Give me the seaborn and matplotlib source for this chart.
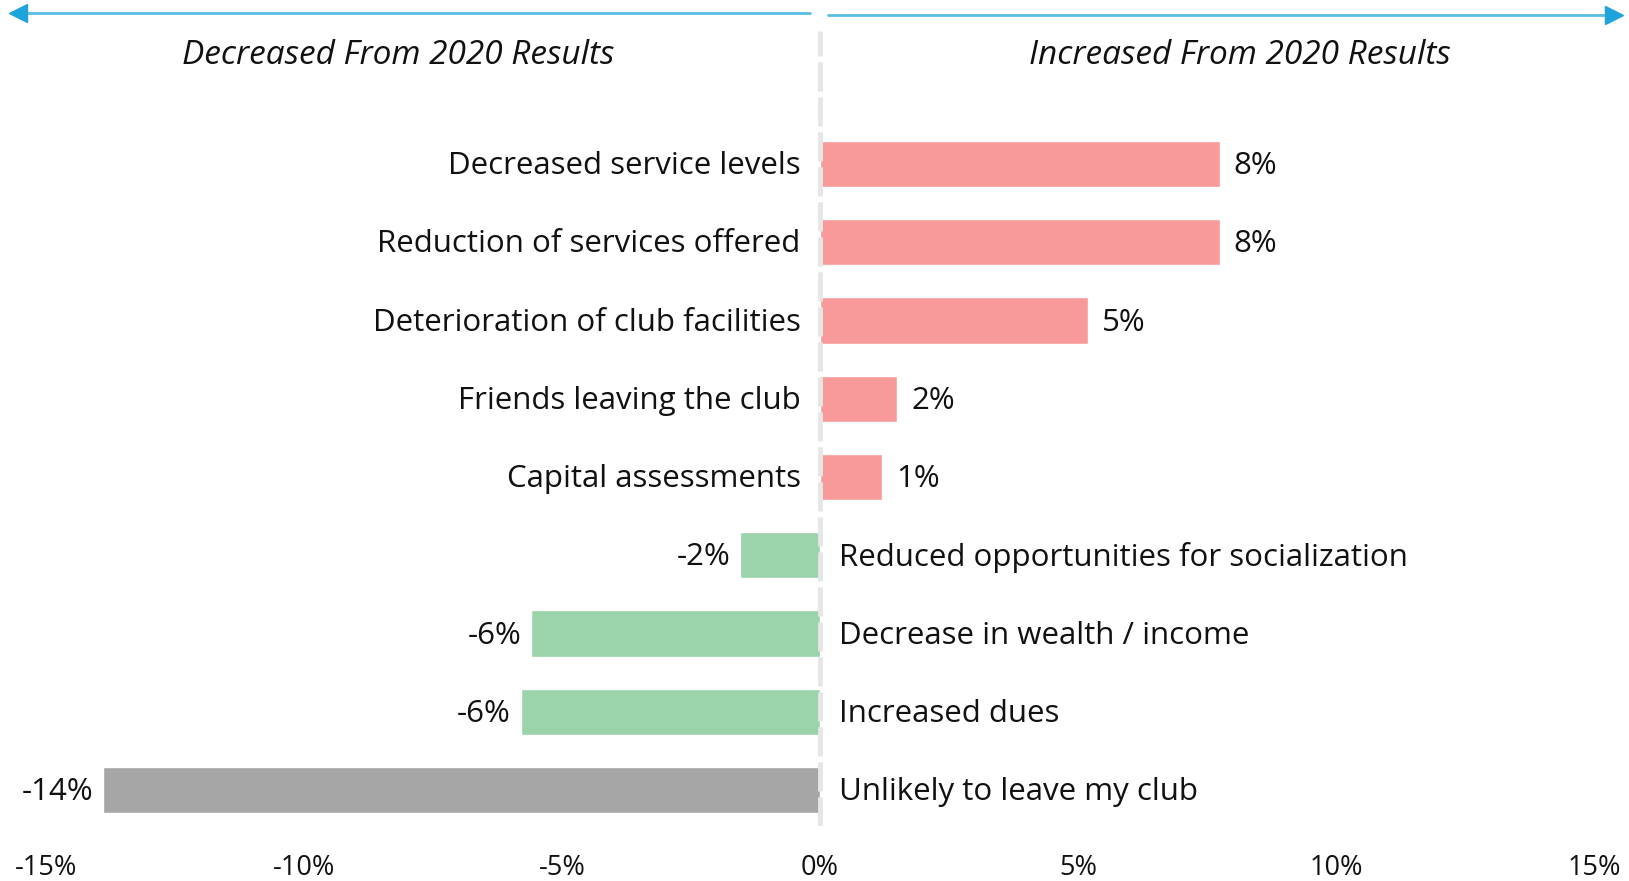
import matplotlib
matplotlib.use("Agg")
import matplotlib.pyplot as plt
from matplotlib.lines import Line2D
import seaborn as sns
import pandas as pd

# Reasons for leaving a club, change versus 2020 (percentage points)
categories = [
    "Decreased service levels",
    "Reduction of services offered",
    "Deterioration of club facilities",
    "Friends leaving the club",
    "Capital assessments",
    "Reduced opportunities for socialization",
    "Decrease in wealth / income",
    "Increased dues",
    "Unlikely to leave my club",
]
values = [7.75, 7.75, 5.2, 1.5, 1.2, -1.55, -5.6, -5.8, -13.9]
bar_colors = ["#F89A9A"] * 5 + ["#9BD3AA"] * 3 + ["#A6A6A6"]
x_ticks = [-15, -10, -5, 0, 5, 10, 15]
left_header = "Decreased From 2020 Results"
right_header = "Increased From 2020 Results"

sns.set_theme(style="white")
plt.rcParams["font.family"] = ["Open Sans", "DejaVu Sans"]

W, H = 1629, 881
fig = plt.figure(figsize=(W / 100, H / 100), dpi=100)
ax = fig.add_axes([46 / W, 1 - 826 / H, (1594 - 46) / W, (826 - 31) / H])

df = pd.DataFrame({"reason": categories, "change": values})
sns.barplot(data=df, y="reason", x="change", hue="reason", palette=bar_colors,
            orient="h", width=0.59, legend=False, ax=ax, saturation=1)

ax.set_xlim(-15, 15)
ax.set_ylim(8.46, -1.7)
ax.set_xticks(x_ticks)
ax.set_xticklabels([f"{t}%" for t in x_ticks], fontsize=19.5, color="#111111")
ax.tick_params(axis="x", length=0, pad=20.5)
ax.set_yticks([])
ax.set_xlabel("")
ax.set_ylabel("")
for s in ax.spines.values():
    s.set_visible(False)

# dashed zero line drawn over the bar bases
ax.axvline(0, color="#E6E6E6", lw=3.5, linestyle=(0, (6, 1.2)), zorder=5)

txt_kw = dict(fontsize=22.5, color="#111111", va="center", textcoords="offset points")
for i, (cat, v) in enumerate(zip(categories, values)):
    lab = f"{v:.0f}%"
    if v >= 0:
        ax.annotate(cat, (0, i), xytext=(-14, -1.5), ha="right", **txt_kw)
        ax.annotate(lab, (v, i), xytext=(10, -1.5), ha="left", **txt_kw)
    else:
        ax.annotate(cat, (0, i), xytext=(14, -1.5), ha="left", **txt_kw)
        ax.annotate(lab, (v, i), xytext=(-7, -1.5), ha="right", **txt_kw)

# section headers
fig.text(398 / W, 1 - 55 / H, left_header, ha="center", va="center",
         fontsize=24, style="italic", color="#111111")
fig.text(1240 / W, 1 - 55 / H, right_header, ha="center", va="center",
         fontsize=24, style="italic", color="#111111")

# direction arrows across the top
line_c, head_c = "#5BBDE2", "#1EA3DB"
fig.add_artist(Line2D([22 / W, 810 / W], [1 - 12.5 / H] * 2, transform=fig.transFigure,
                      color=line_c, lw=2))
fig.add_artist(Line2D([18 / W], [1 - 12.5 / H], transform=fig.transFigure,
                      marker="<", markersize=13, color=head_c, lw=0))
fig.add_artist(Line2D([828 / W, 1608 / W], [1 - 14.5 / H] * 2, transform=fig.transFigure,
                      color=line_c, lw=2))
fig.add_artist(Line2D([1614 / W], [1 - 14.5 / H], transform=fig.transFigure,
                      marker=">", markersize=13, color=head_c, lw=0))

fig.savefig("out.png", dpi=100)
